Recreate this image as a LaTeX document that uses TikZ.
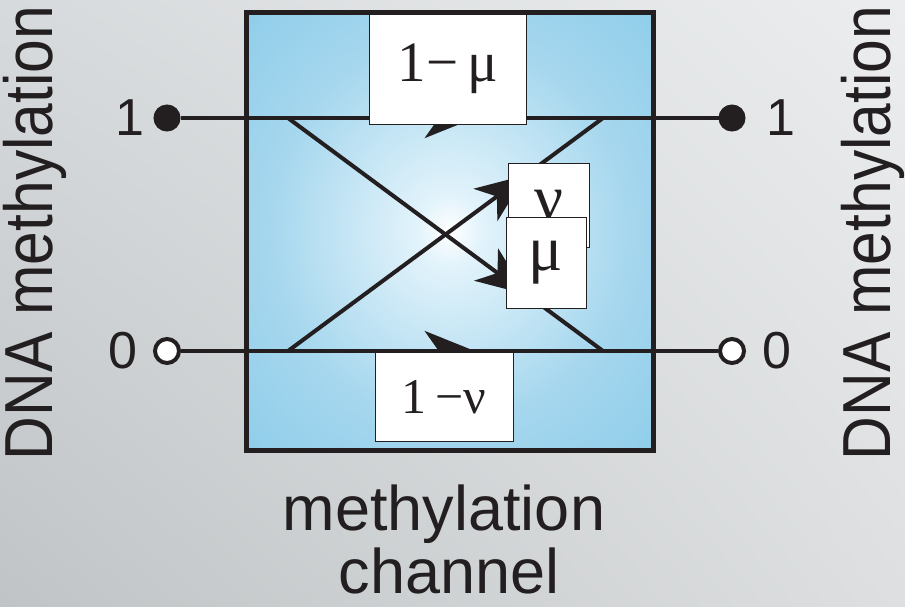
\documentclass[tikz,border=0pt]{standalone}
\usepackage{xcolor}
\usepackage{fontspec}
\setmainfont{Liberation Sans}
\newfontfamily\grk{Liberation Serif}
\usepackage{tikz}
\usetikzlibrary{positioning, arrows.meta, decorations.markings, shadings}

\definecolor{ink}{HTML}{231F20}
\definecolor{bgUL}{HTML}{D7DADC}
\definecolor{bgUR}{HTML}{EBEDEE}
\definecolor{bgLL}{HTML}{C0C4C6}
\definecolor{bgLR}{HTML}{DDDFE0}
\definecolor{chanA}{HTML}{E2F3FB}
\definecolor{chanB}{HTML}{A6D7EE}
\definecolor{chanC}{HTML}{78C3E6}
\pgfdeclareradialshading{changlow}{\pgfpoint{0bp}{0bp}}{color(0bp)=(white); color(4bp)=(chanA); color(22bp)=(chanB); color(50bp)=(chanC); color(100bp)=(chanC)}

\tikzset{
    wire/.style={ink, line width=4pt},
    flow/.style={postaction={decorate}, decoration={markings,
        mark=at position #1 with {\arrow{Stealth[length=50pt, width=40pt, inset=14pt]}}}},
    hi/.style={circle, draw=ink, fill=ink, line width=1pt, minimum size=26pt, inner sep=0pt},
    lo/.style={circle, draw=ink, fill=white, line width=4pt, minimum size=24pt, inner sep=0pt},
    rate/.style={draw=ink, fill=white, line width=1pt, inner sep=0pt, text=ink,
        font=\grk\fontsize{57}{57}\selectfont},
    digit/.style={inner sep=0pt, text=ink, font=\fontsize{52}{52}\selectfont},
    side/.style={rotate=90, anchor=base, inner sep=0pt, text=ink, font=\fontsize{68}{68}\selectfont},
    caption/.style={anchor=base, inner sep=0pt, text=ink, font=\fontsize{63}{63}\selectfont}
}

\begin{document}
\begin{tikzpicture}[x=1pt, y=-1pt]
        \useasboundingbox (0,0) rectangle (905,606);
        \shade[upper left=bgUL, upper right=bgUR, lower left=bgLL, lower right=bgLR] (0,0) rectangle (905,606);

        \node[draw=ink, line width=5pt, shading=changlow, minimum width=407pt, minimum height=438pt] (chan) at (449.5,231) {};

        \coordinate (tl) at (288,118);
        \coordinate (tr) at (603,118);
        \coordinate (bl) at (288,351);
        \coordinate (br) at (603,351);

        \node[hi] (in1)  at (167,118) {};
        \node[hi] (out1) at (732,118) {};
        \node[lo] (in0)  at (167,351) {};
        \node[lo] (out0) at (732,351) {};

        \draw[wire, flow=0.547] (in1) -- (out1);
        \draw[wire, flow=0.547] (in0) -- (out0);
        \draw[wire, flow=0.755] (bl) -- (tr);
        \draw[wire, flow=0.757] (tl) -- (br);

        \node[digit, left=9pt of in1]   {1};
        \node[digit, left=15pt of in0]  {0};
        \node[digit, right=21pt of out1] {1};
        \node[digit, right=16pt of out0] {0};

        \node[rate, minimum width=157pt, minimum height=110pt] (stay1) at (448,69) {1−\,μ};
        \node[rate, minimum width=81pt, minimum height=84pt, font=\grk\fontsize{64}{64}\selectfont] (gain) at (549,205) {ν};
        \node[rate, minimum width=80pt, minimum height=91pt, font=\grk\fontsize{64}{64}\selectfont] (loss) at (546,263) {μ};
        \node[rate, minimum width=138pt, minimum height=89pt, font=\grk\fontsize{50}{50}\selectfont] (stay0) at (444,397) {1\,−ν};

        \node[side] (dnain)  at (52,233)  {\scalebox{0.89}[1]{DNA methylation}};
        \node[side] (dnaout) at (890,233) {\scalebox{0.89}[1]{DNA methylation}};

        \node[caption] (meth) at (444,530) {methylation};
        \node[caption] (chn)  at (449,593) {channel};
\end{tikzpicture}
\end{document}
